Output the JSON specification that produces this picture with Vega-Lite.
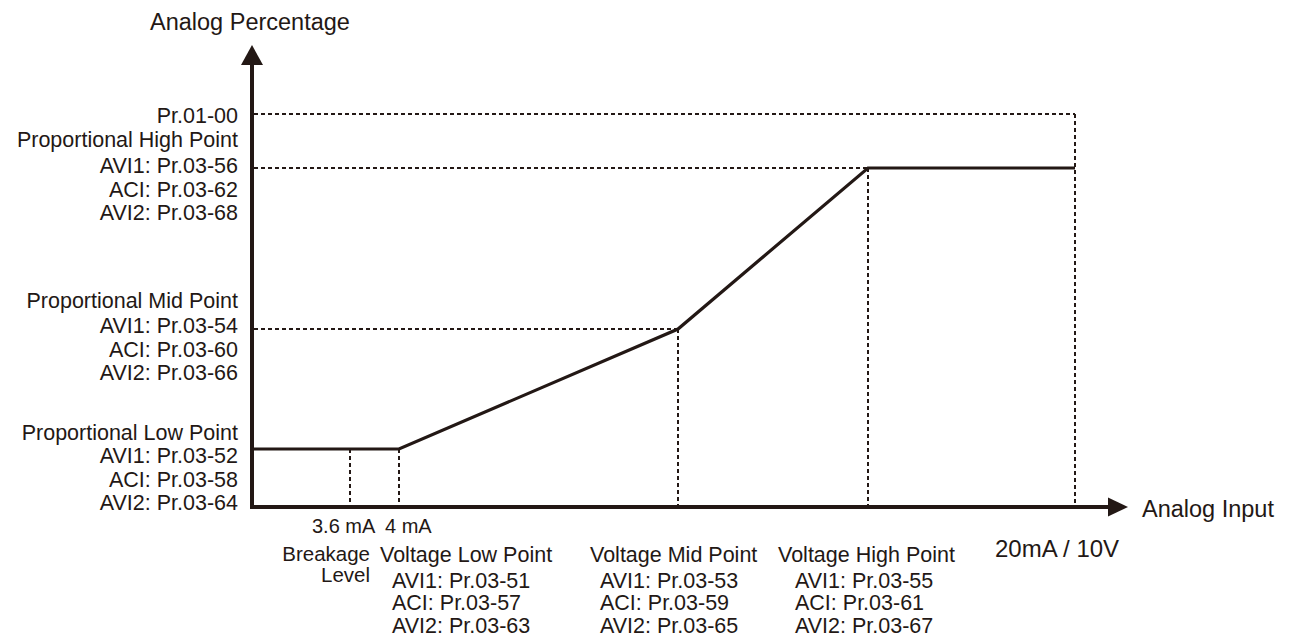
{
  "$schema": "https://vega.github.io/schema/vega-lite/v6.json",
  "width": 1293,
  "height": 643,
  "autosize": {"type": "fit", "contains": "padding"},
  "padding": 0,
  "background": "white",
  "config": {"view": {"stroke": null}},
  "datasets": {
    "curve": [
      {"x": 252, "y": 449, "o": 1},
      {"x": 399, "y": 449, "o": 2},
      {"x": 678, "y": 329, "o": 3},
      {"x": 868, "y": 168, "o": 4},
      {"x": 1075, "y": 168, "o": 5}
    ],
    "guides": [
      {"x": 254, "y": 114, "x2": 1075, "y2": 114},
      {"x": 1075, "y": 114, "x2": 1075, "y2": 507},
      {"x": 254, "y": 168, "x2": 868, "y2": 168},
      {"x": 868, "y": 168, "x2": 868, "y2": 507},
      {"x": 254, "y": 329, "x2": 678, "y2": 329},
      {"x": 678, "y": 329, "x2": 678, "y2": 507},
      {"x": 350, "y": 449, "x2": 350, "y2": 507},
      {"x": 399, "y": 449, "x2": 399, "y2": 507}
    ],
    "axes": [
      {"x": 252, "y": 64, "x2": 252, "y2": 507},
      {"x": 252, "y": 507, "x2": 1110, "y2": 507}
    ],
    "arrowUp": [{"x": 252, "y": 55}],
    "arrowRight": [{"x": 1118, "y": 507}],
    "labels": [
      {"group": "yLabel", "x": 238, "y": 123, "label": "Pr.01-00"},
      {"group": "yLabel", "x": 238, "y": 147, "label": "Proportional High Point"},
      {"group": "yLabel", "x": 238, "y": 173, "label": "AVI1: Pr.03-56"},
      {"group": "yLabel", "x": 238, "y": 197, "label": "ACI: Pr.03-62"},
      {"group": "yLabel", "x": 238, "y": 220, "label": "AVI2: Pr.03-68"},
      {"group": "yLabel", "x": 238, "y": 308, "label": "Proportional Mid Point"},
      {"group": "yLabel", "x": 238, "y": 333, "label": "AVI1: Pr.03-54"},
      {"group": "yLabel", "x": 238, "y": 357, "label": "ACI: Pr.03-60"},
      {"group": "yLabel", "x": 238, "y": 380, "label": "AVI2: Pr.03-66"},
      {"group": "yLabel", "x": 238, "y": 440, "label": "Proportional Low Point"},
      {"group": "yLabel", "x": 238, "y": 463, "label": "AVI1: Pr.03-52"},
      {"group": "yLabel", "x": 238, "y": 487, "label": "ACI: Pr.03-58"},
      {"group": "yLabel", "x": 238, "y": 510, "label": "AVI2: Pr.03-64"},
      {"group": "breakage", "x": 370, "y": 561, "label": "Breakage"},
      {"group": "breakage", "x": 370, "y": 582, "label": "Level"},
      {"group": "axisTitle", "x": 150, "y": 30, "label": "Analog Percentage"},
      {"group": "axisTitle", "x": 1142, "y": 517, "label": "Analog Input"},
      {"group": "xLabel", "x": 380, "y": 562, "label": "Voltage Low Point"},
      {"group": "xLabel", "x": 392, "y": 588, "label": "AVI1: Pr.03-51"},
      {"group": "xLabel", "x": 392, "y": 610, "label": "ACI: Pr.03-57"},
      {"group": "xLabel", "x": 392, "y": 633, "label": "AVI2: Pr.03-63"},
      {"group": "xLabel", "x": 590, "y": 562, "label": "Voltage Mid Point"},
      {"group": "xLabel", "x": 600, "y": 588, "label": "AVI1: Pr.03-53"},
      {"group": "xLabel", "x": 600, "y": 610, "label": "ACI: Pr.03-59"},
      {"group": "xLabel", "x": 600, "y": 633, "label": "AVI2: Pr.03-65"},
      {"group": "xLabel", "x": 778, "y": 562, "label": "Voltage High Point"},
      {"group": "xLabel", "x": 795, "y": 588, "label": "AVI1: Pr.03-55"},
      {"group": "xLabel", "x": 795, "y": 610, "label": "ACI: Pr.03-61"},
      {"group": "xLabel", "x": 795, "y": 633, "label": "AVI2: Pr.03-67"},
      {"group": "current", "x": 312, "y": 533, "label": "3.6 mA"},
      {"group": "current", "x": 385, "y": 533, "label": "4 mA"},
      {"group": "fullScale", "x": 995, "y": 557, "label": "20mA / 10V"}
    ]
  },
  "layer": [
    {
      "data": {"name": "guides"},
      "mark": {"type": "rule", "color": "#231815", "strokeWidth": 2, "strokeDash": [4, 3]},
      "encoding": {
        "x": {"field": "x", "type": "quantitative", "scale": {"domain": [0, 1293], "nice": false, "zero": false}, "axis": null},
        "y": {"field": "y", "type": "quantitative", "scale": {"domain": [0, 643], "nice": false, "zero": false, "reverse": true}, "axis": null},
        "x2": {"field": "x2"},
        "y2": {"field": "y2"}
      }
    },
    {
      "data": {"name": "axes"},
      "mark": {"type": "rule", "color": "#231815", "strokeWidth": 4, "strokeCap": "square"},
      "encoding": {
        "x": {"field": "x", "type": "quantitative"},
        "y": {"field": "y", "type": "quantitative"},
        "x2": {"field": "x2"},
        "y2": {"field": "y2"}
      }
    },
    {
      "data": {"name": "curve"},
      "mark": {"type": "line", "color": "#231815", "strokeWidth": 3.2, "strokeJoin": "miter"},
      "encoding": {
        "x": {"field": "x", "type": "quantitative"},
        "y": {"field": "y", "type": "quantitative"},
        "order": {"field": "o"}
      }
    },
    {
      "data": {"name": "arrowUp"},
      "mark": {"type": "point", "filled": true, "color": "#231815", "opacity": 1, "size": 400, "shape": "M0,-1L1.1,1L-1.1,1Z"},
      "encoding": {
        "x": {"field": "x", "type": "quantitative"},
        "y": {"field": "y", "type": "quantitative"}
      }
    },
    {
      "data": {"name": "arrowRight"},
      "mark": {"type": "point", "filled": true, "color": "#231815", "opacity": 1, "size": 400, "shape": "M1,0L-1,-0.95L-1,0.95Z"},
      "encoding": {
        "x": {"field": "x", "type": "quantitative"},
        "y": {"field": "y", "type": "quantitative"}
      }
    },
    {
      "data": {"name": "labels"},
      "transform": [{"filter": "datum.group === 'yLabel'"}],
      "mark": {"type": "text", "align": "right", "baseline": "alphabetic", "font": "Liberation Sans", "fontSize": 21.5, "color": "#231815"},
      "encoding": {
        "x": {"field": "x", "type": "quantitative"},
        "y": {"field": "y", "type": "quantitative"},
        "text": {"field": "label"}
      }
    },
    {
      "data": {"name": "labels"},
      "transform": [{"filter": "datum.group === 'breakage'"}],
      "mark": {"type": "text", "align": "right", "baseline": "alphabetic", "font": "Liberation Sans", "fontSize": 20.5, "color": "#231815"},
      "encoding": {
        "x": {"field": "x", "type": "quantitative"},
        "y": {"field": "y", "type": "quantitative"},
        "text": {"field": "label"}
      }
    },
    {
      "data": {"name": "labels"},
      "transform": [{"filter": "datum.group === 'xLabel'"}],
      "mark": {"type": "text", "align": "left", "baseline": "alphabetic", "font": "Liberation Sans", "fontSize": 21.5, "color": "#231815"},
      "encoding": {
        "x": {"field": "x", "type": "quantitative"},
        "y": {"field": "y", "type": "quantitative"},
        "text": {"field": "label"}
      }
    },
    {
      "data": {"name": "labels"},
      "transform": [{"filter": "datum.group === 'axisTitle'"}],
      "mark": {"type": "text", "align": "left", "baseline": "alphabetic", "font": "Liberation Sans", "fontSize": 23.5, "color": "#231815"},
      "encoding": {
        "x": {"field": "x", "type": "quantitative"},
        "y": {"field": "y", "type": "quantitative"},
        "text": {"field": "label"}
      }
    },
    {
      "data": {"name": "labels"},
      "transform": [{"filter": "datum.group === 'current'"}],
      "mark": {"type": "text", "align": "left", "baseline": "alphabetic", "font": "Liberation Sans", "fontSize": 20, "color": "#231815"},
      "encoding": {
        "x": {"field": "x", "type": "quantitative"},
        "y": {"field": "y", "type": "quantitative"},
        "text": {"field": "label"}
      }
    },
    {
      "data": {"name": "labels"},
      "transform": [{"filter": "datum.group === 'fullScale'"}],
      "mark": {"type": "text", "align": "left", "baseline": "alphabetic", "font": "Liberation Sans", "fontSize": 24, "color": "#231815"},
      "encoding": {
        "x": {"field": "x", "type": "quantitative"},
        "y": {"field": "y", "type": "quantitative"},
        "text": {"field": "label"}
      }
    }
  ]
}
